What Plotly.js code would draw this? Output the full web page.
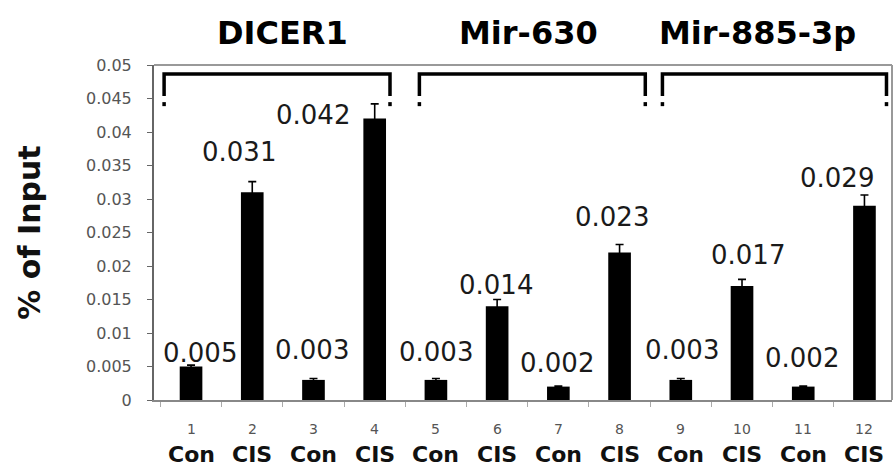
<!DOCTYPE html>
<html>
<head>
<meta charset="utf-8">
<script src="https://cdn.plot.ly/plotly-3.0.1.min.js"></script>
<style>html,body{margin:0;padding:0;background:#fff;}</style>
</head>
<body>
<div id="chart" style="width:896px;height:468px;"></div>
<script>
// ---- data ----
const sampleNumbers = ['1','2','3','4','5','6','7','8','9','10','11','12'];
const treatments = ['Con','CIS','Con','CIS','Con','CIS','Con','CIS','Con','CIS','Con','CIS'];
const values = [0.005, 0.031, 0.003, 0.042, 0.003, 0.014, 0.002, 0.022, 0.003, 0.017, 0.002, 0.029];
const errors = [0.0002, 0.0016, 0.0002, 0.0022, 0.0002, 0.001, 0.0001, 0.0012, 0.0002, 0.001, 0.0001, 0.0016];
const valueLabels = ['0.005','0.031','0.003','0.042','0.003','0.014','0.002','0.023','0.003','0.017','0.002','0.029'];
const groupNames = ['DICER1', 'Mir-630', 'Mir-885-3p'];

// ---- label offsets (pixels, relative to bar top) ----
const labelDx = [9, -13, -1, -62, 0, -1, -1, -8, 1, 6, -1, -27];
const labelDy = [14, 40, 30, 4, 28, 21, 24, 36, 30, 31, 29, 28];

const xs = values.map((v, i) => i);

const trace = {
  type: 'bar',
  x: xs,
  y: values,
  width: 0.37,
  marker: {color: '#000000'},
  error_y: {type: 'data', array: errors, visible: true, color: '#000', thickness: 1.6, width: 4},
  hoverinfo: 'skip'
};

const annotations = [];
values.forEach((v, i) => {
  annotations.push({
    x: i, y: v, xref: 'x', yref: 'y',
    text: valueLabels[i], showarrow: false,
    xanchor: 'center', yanchor: 'middle',
    xshift: labelDx[i], yshift: labelDy[i],
    font: {family: 'DejaVu Sans, Arial, sans-serif', size: 26, color: '#1a1a1a'}
  });
  annotations.push({
    x: i, y: -0.0866, xref: 'x', yref: 'paper',
    text: sampleNumbers[i], showarrow: false,
    xanchor: 'center', yanchor: 'middle', borderpad: 0,
    font: {family: 'DejaVu Sans, Arial, sans-serif', size: 14, color: '#555'}
  });
  annotations.push({
    x: i, y: -0.2015, xref: 'x', yref: 'paper',
    text: '<b>' + treatments[i] + '</b>', showarrow: false,
    xanchor: 'center', yanchor: 'bottom', borderpad: 0,
    font: {family: 'DejaVu Sans, Arial, sans-serif', size: 22, color: '#111'}
  });
});

// group titles
const titleX = [1.487, 5.51, 9.25];
groupNames.forEach((g, k) => {
  annotations.push({
    x: titleX[k], y: 1.0955, xref: 'x', yref: 'paper',
    text: '<b>' + g + '</b>', showarrow: false,
    xanchor: 'center', yanchor: 'middle',
    font: {family: 'DejaVu Sans, Arial, sans-serif', size: 32, color: '#000'}
  });
});

// brackets
const brackets = [[-0.44, 3.25], [3.73, 7.42], [7.70, 11.36]];
const yTop = 0.04865, ySolid = 0.04536, yDot1 = 0.04446, yDot2 = 0.04386;
const shapes = [];
brackets.forEach(([a, b]) => {
  shapes.push({type: 'path', xref: 'x', yref: 'y',
    path: `M ${a} ${ySolid} L ${a} ${yTop} L ${b} ${yTop} L ${b} ${ySolid}`,
    line: {color: '#000', width: 3.5}});
  shapes.push({type: 'line', xref: 'x', yref: 'y', x0: a, x1: a, y0: yDot2, y1: yDot1, line: {color: '#000', width: 3.5}});
  shapes.push({type: 'line', xref: 'x', yref: 'y', x0: b, x1: b, y0: yDot2, y1: yDot1, line: {color: '#000', width: 3.5}});
});
// frame top & right
shapes.push({type: 'line', xref: 'paper', yref: 'paper', x0: 0, x1: 1, y0: 1, y1: 1, line: {color: '#999', width: 2}});
shapes.push({type: 'line', xref: 'paper', yref: 'paper', x0: 1, x1: 1, y0: 0, y1: 1, line: {color: '#999', width: 2}});

const tickPos = [];
for (let i = 0; i < values.length - 1; i++) tickPos.push(i + 0.5);
tickPos.unshift(-0.5);

const layout = {
  width: 896, height: 468,
  margin: {l: 154, r: 4, t: 65, b: 68},
  paper_bgcolor: '#fff', plot_bgcolor: '#fff',
  showlegend: false,
  xaxis: {
    range: [-0.605, 11.45], showgrid: false, zeroline: false,
    showline: true, linecolor: '#888', linewidth: 2,
    tickmode: 'array', tickvals: tickPos, ticktext: tickPos.map(() => ''),
    ticks: 'outside', ticklen: 5, tickcolor: '#aaa', showticklabels: false
  },
  yaxis: {
    range: [0, 0.05], dtick: 0.005, tick0: 0, showgrid: false, zeroline: false,
    showline: true, linecolor: '#666', linewidth: 2,
    ticks: 'outside', ticklen: 5, tickcolor: '#666',
    tickfont: {family: 'DejaVu Sans, Arial, sans-serif', size: 16, color: '#555'},
    ticklabelstandoff: 12,
    title: {text: '<b>% of Input</b>', standoff: 36,
      font: {family: 'DejaVu Sans, Arial, sans-serif', size: 30, color: '#111'}}
  },
  annotations: annotations,
  shapes: shapes
};

Plotly.newPlot('chart', [trace], layout, {displayModeBar: false, staticPlot: true});
</script>
</body>
</html>
